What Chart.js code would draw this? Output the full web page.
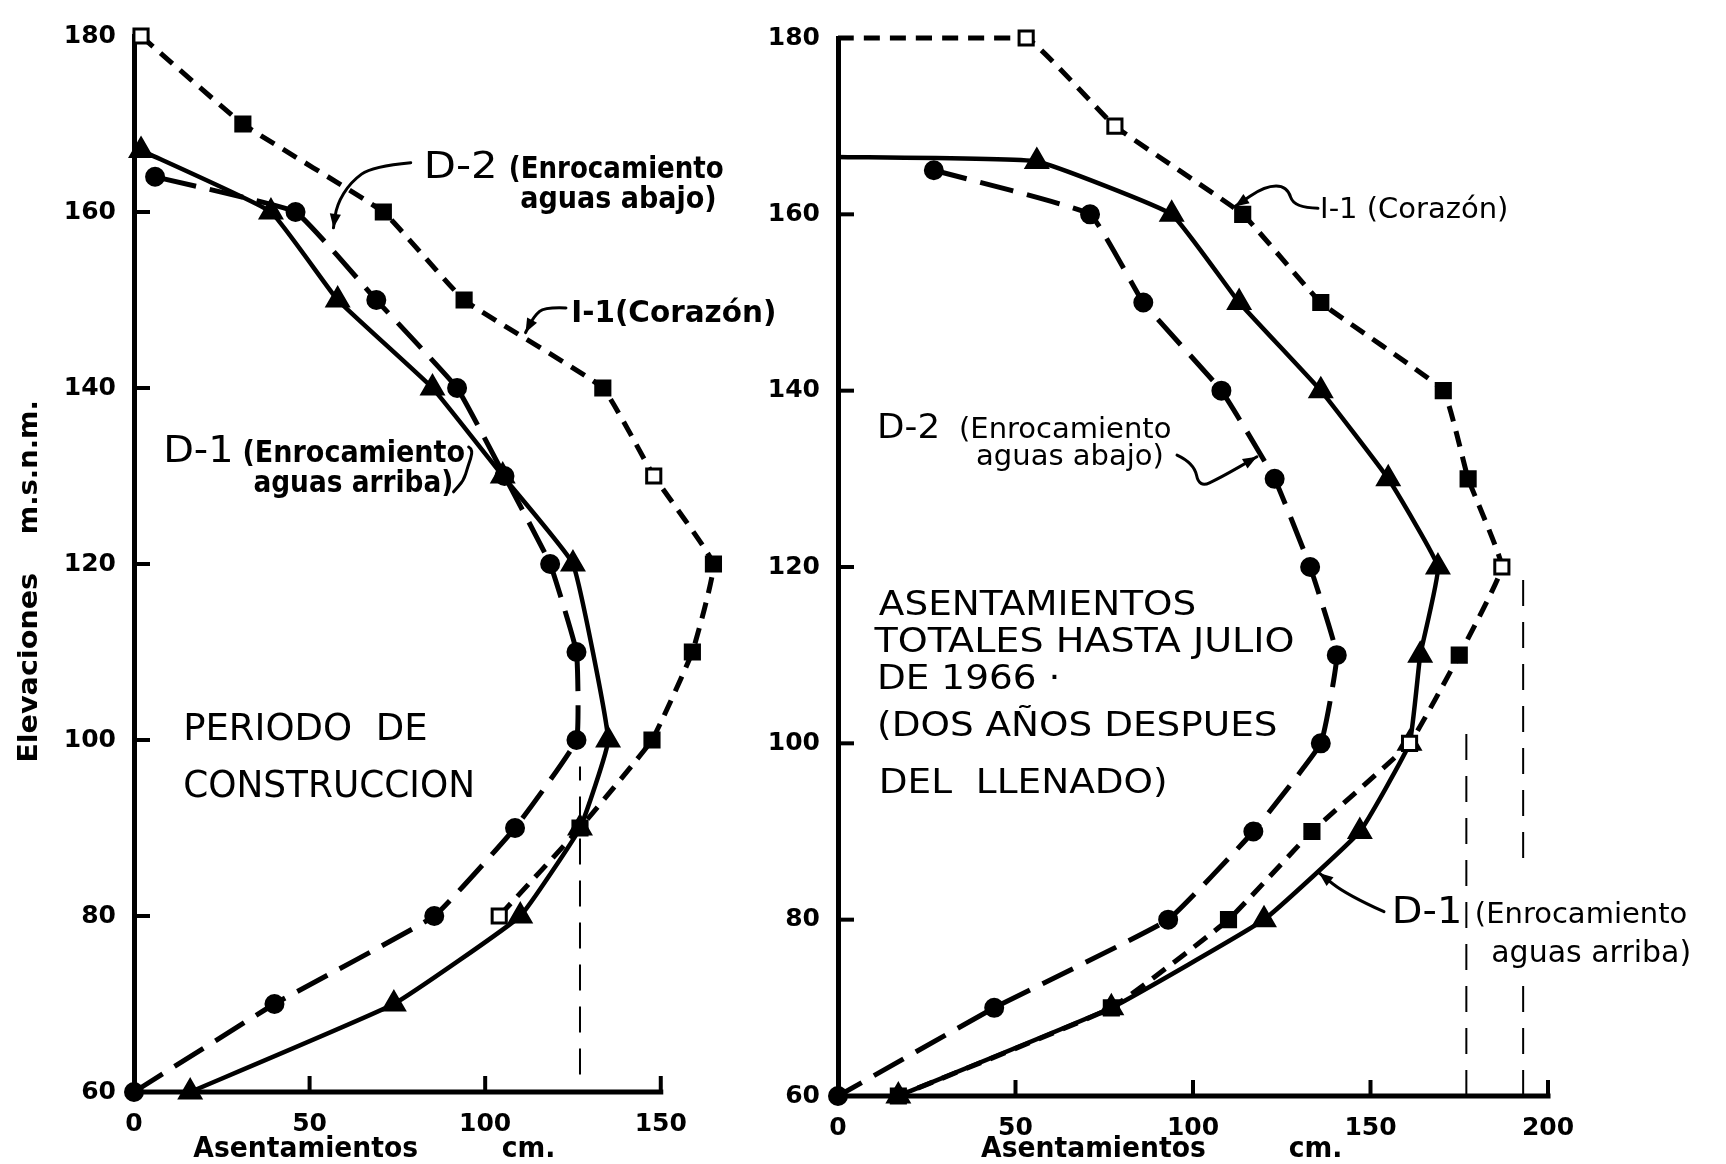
<!DOCTYPE html>
<html><head><meta charset="utf-8">
<script src="https://cdn.jsdelivr.net/npm/chart.js@4.4.1/dist/chart.umd.min.js"></script>
<style>
html,body{margin:0;padding:0;background:#fff;width:1726px;height:1164px;overflow:hidden;}
#cl{position:absolute;left:0;top:0;}
#cr{position:absolute;left:760px;top:0;}
</style></head><body>
<canvas id="cl" width="800" height="1164"></canvas>
<canvas id="cr" width="966" height="1164"></canvas>
<script>
// ---------- DATA (settlement cm, elevation m.s.n.m.) ----------
const ELEV_TICKS = [60, 80, 100, 120, 140, 160, 180];
const LEFT_X_TICKS = [0, 50, 100, 150];
const RIGHT_X_TICKS = [0, 50, 100, 150, 200];

// Periodo de construccion
const LEFT_I1 = [[2,180],[31,170],[71,160],[94,150],[133.5,140],[148,130],[165,120],[159,110],[147.5,100],[127,90],[104,80]];
const LEFT_D2 = [[0,60],[40,70],[85.5,80],[108.5,90],[126,100],[126,110],[118.5,120],[105.5,130],[92,140],[69,150],[46,160],[6,164]];
const LEFT_D1 = [[16,60],[74,70],[110,80],[127,90],[135,100],[125,120],[105,130],[85,140],[58,150],[39,160],[2,167]];
const LEFT_GUIDE = [[127,62],[127,97]];

// Totales hasta julio de 1966
const RIGHT_I1 = [[0,180],[53,180],[78,170],[114,160],[136,150],[170.5,140],[177.5,130],[187,120],[175,110],[161,100],[133.5,90],[110,80],[77,70],[17,60]];
const RIGHT_D2 = [[27,165],[71,160],[86,150],[108,140],[123,130],[133,120],[140.5,110],[136,100],[117,90],[93,80],[44,70],[0,60]];
const RIGHT_D1 = [[0,166.5],[56,166],[94,160],[113,150],[136,140],[155,130],[169,120],[164,110],[161,100],[147,90],[120,80],[77,70],[17,60]];
const RIGHT_GUIDE_A = [[177,60],[177,102]];
const RIGHT_GUIDE_B = [[193,60],[193,73],[193,null],[193,87],[193,119]];

// ---------- STYLE ----------
const INK = '#000';
const FONT = '"DejaVu Sans", "Liberation Sans", sans-serif';
const LEFT_I1_OPEN = [0, 5, 10];
const RIGHT_I1_OPEN = [1, 2, 7, 9];
const RIGHT_I1_NOMARK = [0];
const RIGHT_D1_NOMARK = [0];

const toXY = arr => arr.map(p => ({x: p[0], y: p[1]}));

function seriesI1(data, open, nomark) {
  return {
    label: 'I-1 (Corazón)', data: toXY(data), borderColor: INK, borderWidth: 5,
    borderDash: [16, 10], pointStyle: 'rect',
    pointRadius: c => (nomark || []).includes(c.dataIndex) ? 0 : 10,
    pointBackgroundColor: c => open.includes(c.dataIndex) ? '#fff' : INK,
    pointBorderColor: INK, pointBorderWidth: 3, tension: 0.1, clip: false
  };
}
function seriesD2(data) {
  return {
    label: 'D-2 (Enrocamiento aguas abajo)', data: toXY(data), borderColor: INK, borderWidth: 5,
    borderDash: [34, 14], pointStyle: 'circle', pointRadius: 7.5,
    pointBackgroundColor: INK, pointBorderColor: INK, tension: 0.1, clip: false
  };
}
function seriesD1(data, nomark) {
  return {
    label: 'D-1 (Enrocamiento aguas arriba)', data: toXY(data), borderColor: INK, borderWidth: 4.5,
    pointStyle: 'triangle',
    pointRadius: c => (nomark || []).includes(c.dataIndex) ? 0 : 10.5,
    pointBackgroundColor: INK, pointBorderColor: INK, tension: 0.1, clip: false
  };
}
function guide(data) {
  return { label: 'guide', data: toXY(data), borderColor: INK, borderWidth: 2,
    borderDash: [26, 16], pointRadius: 0, spanGaps: false, clip: false };
}

const inkPlugin = {
  id: 'ink',
  beforeDatasetsDraw(chart, args, opts) {
    const ctx = chart.ctx, xs = chart.scales.x, ys = chart.scales.y;
    ctx.save();
    ctx.strokeStyle = INK; ctx.lineWidth = 5; ctx.setLineDash([]); ctx.lineCap = 'butt';
    ctx.beginPath();
    ctx.moveTo(xs.left - 2.5, ys.bottom);
    ctx.lineTo(xs.getPixelForValue(opts.xEnd) + 2.5, ys.bottom);
    ctx.stroke();
    ctx.restore();
  },
  afterDraw(chart, args, opts) {
    const ctx = chart.ctx, xs = chart.scales.x, ys = chart.scales.y;
    const X = v => xs.getPixelForValue(v), Y = v => ys.getPixelForValue(v);
    ctx.save();
    ctx.strokeStyle = INK; ctx.fillStyle = INK; ctx.lineWidth = 4; ctx.setLineDash([]);
    xs.ticks.forEach(t => {
      if (t.value === xs.min) return;
      const px = X(t.value);
      ctx.beginPath(); ctx.moveTo(px, ys.bottom); ctx.lineTo(px, ys.bottom - opts.tickLen); ctx.stroke();
    });
    ys.ticks.forEach(t => {
      if (t.value === ys.min || t.value === ys.max) return;
      const py = Y(t.value);
      ctx.beginPath(); ctx.moveTo(xs.left, py); ctx.lineTo(xs.left + opts.tickLen, py); ctx.stroke();
    });
    (opts.leaders || []).forEach(L => {
      const pts = L.pts.map(p => [X(p[0]), Y(p[1])]);
      ctx.lineWidth = 3; ctx.lineJoin = 'round'; ctx.lineCap = 'round';
      ctx.beginPath(); ctx.moveTo(pts[0][0], pts[0][1]);
      for (let i = 1; i < pts.length - 1; i++) {
        const mx = (pts[i][0] + pts[i+1][0]) / 2, my = (pts[i][1] + pts[i+1][1]) / 2;
        ctx.quadraticCurveTo(pts[i][0], pts[i][1], mx, my);
      }
      const last = pts[pts.length - 1];
      ctx.lineTo(last[0], last[1]); ctx.stroke();
      if (L.arrow) {
        const prev = pts[pts.length - 2];
        const a = Math.atan2(last[1] - prev[1], last[0] - prev[0]);
        const s = 14, w = 0.4;
        ctx.beginPath(); ctx.moveTo(last[0], last[1]);
        ctx.lineTo(last[0] - s*Math.cos(a) + s*w*Math.sin(a), last[1] - s*Math.sin(a) - s*w*Math.cos(a));
        ctx.lineTo(last[0] - s*Math.cos(a) - s*w*Math.sin(a), last[1] - s*Math.sin(a) + s*w*Math.cos(a));
        ctx.closePath(); ctx.fill();
      }
    });
    (opts.texts || []).forEach(T => {
      ctx.save();
      ctx.font = `${T.w || 'normal'} ${T.s}px ${FONT}`;
      ctx.textBaseline = T.base || 'alphabetic'; ctx.textAlign = T.align || 'left';
      ctx.translate(X(T.x), Y(T.y));
      if (T.rot) ctx.rotate(T.rot);
      ctx.scale(T.hs || 1, 1);
      ctx.fillText(T.t, 0, 0);
      ctx.restore();
    });
    ctx.restore();
  }
};

function makeChart(id, datasets, xTicks, xMax, yWidth, pad, annot) {
  return new Chart(document.getElementById(id), {
    type: 'line',
    data: { datasets },
    plugins: [inkPlugin],
    options: {
      responsive: false, animation: false,
      layout: { padding: pad },
      plugins: { legend: { display: false }, tooltip: { enabled: false }, ink: annot },
      scales: {
        x: { type: 'linear', min: 0, max: xMax,
          afterBuildTicks: s => { s.ticks = xTicks.map(v => ({ value: v })); },
          afterFit: s => { s.height = 40; },
          grid: { display: false }, border: { display: false },
          ticks: { color: INK, padding: 9, font: { family: FONT, size: 25, weight: 'bold' } } },
        y: { type: 'linear', min: 60, max: 180,
          afterBuildTicks: s => { s.ticks = ELEV_TICKS.map(v => ({ value: v })); },
          afterFit: s => { s.width = yWidth; },
          grid: { display: false }, border: { display: true, width: 5, color: INK },
          ticks: { color: INK, padding: 10, font: { family: FONT, size: 25, weight: 'bold' } } }
      }
    }
  });
}

// Left panel: chart area 134..731 (x 0..170) x 36..1092; axis drawn to 150
makeChart('cl',
  [guide(LEFT_GUIDE), seriesI1(LEFT_I1, LEFT_I1_OPEN), seriesD2(LEFT_D2), seriesD1(LEFT_D1)],
  LEFT_X_TICKS, 170, 80, { left: 54, right: 69, top: 36, bottom: 32 },
  { tickLen: 16, xEnd: 150,
    texts: [
      { t: 'D-2', x: 82.5, y: 163.9, s: 38, hs: 1.1 },
      { t: '(Enrocamiento', x: 106.7, y: 163.9, s: 30, w: 'bold', hs: 0.87 },
      { t: 'aguas abajo)', x: 110, y: 160.5, s: 30, w: 'bold', hs: 0.9 },
      { t: 'I-1(Corazón)', x: 124.5, y: 147.5, s: 31, w: 'bold', hs: 0.95 },
      { t: 'D-1', x: 8.3, y: 131.6, s: 38, hs: 1.05 },
      { t: '(Enrocamiento', x: 30.9, y: 131.6, s: 30, w: 'bold', hs: 0.9 },
      { t: 'aguas arriba)', x: 34, y: 128.2, s: 30, w: 'bold', hs: 0.88 },
      { t: 'PERIODO  DE', x: 14, y: 100, s: 37 },
      { t: 'CONSTRUCCION', x: 14, y: 93.5, s: 37, hs: 0.97 },
      { t: 'Asentamientos', x: 16.9, y: 52.6, s: 28, w: 'bold', hs: 0.95 },
      { t: 'cm.', x: 104.7, y: 52.6, s: 28, w: 'bold', hs: 0.95 },
      { t: 'Elevaciones', x: -29.6, y: 108.2, s: 26, w: 'bold', hs: 1.1, rot: -Math.PI/2, align: 'center', base: 'middle' },
      { t: 'm.s.n.m.', x: -29.6, y: 131.0, s: 26, w: 'bold', hs: 1.05, rot: -Math.PI/2, align: 'center', base: 'middle' }
    ],
    leaders: [
      { pts: [[78.8,165.6],[67.9,165.2],[61.7,163.4],[57.7,160.8],[56.8,158.2]], arrow: true },
      { pts: [[123,149.1],[117,149.2],[114,148.2],[111.5,146.3]], arrow: true },
      { pts: [[95.3,133.3],[96.7,133.0],[95.0,131.0],[93.9,129.5],[91.0,128.2]], arrow: false }
    ] });

// Right panel: chart area (page) 838..1548 x 38..1096 -> canvas 78..788
makeChart('cr',
  [guide(RIGHT_GUIDE_A), guide(RIGHT_GUIDE_B), seriesI1(RIGHT_I1, RIGHT_I1_OPEN, RIGHT_I1_NOMARK), seriesD2(RIGHT_D2), seriesD1(RIGHT_D1, RIGHT_D1_NOMARK)],
  RIGHT_X_TICKS, 200, 75, { left: 3, right: 178, top: 38, bottom: 28 },
  { tickLen: 16, xEnd: 200,
    texts: [
      { t: 'I-1 (Corazón)', x: 135.8, y: 159.6, s: 29 },
      { t: 'D-2', x: 11.0, y: 134.6, s: 34, hs: 1.05 },
      { t: '(Enrocamiento', x: 34.1, y: 134.6, s: 29 },
      { t: 'aguas abajo)', x: 38.9, y: 131.6, s: 29 },
      { t: 'ASENTAMIENTOS', x: 11.5, y: 114.6, s: 34, hs: 1.1 },
      { t: 'TOTALES HASTA JULIO', x: 10.3, y: 110.4, s: 34, hs: 1.12 },
      { t: 'DE 1966 ·', x: 11.0, y: 106.2, s: 34, hs: 1.1 },
      { t: '(DOS AÑOS DESPUES', x: 11.0, y: 100.8, s: 34, hs: 1.1 },
      { t: 'DEL  LLENADO)', x: 11.5, y: 94.4, s: 34, hs: 1.1 },
      { t: 'D-1', x: 156, y: 79.6, s: 38, hs: 1.05 },
      { t: '(Enrocamiento', x: 179.4, y: 79.6, s: 29 },
      { t: 'aguas arriba)', x: 184, y: 75.2, s: 30 },
      { t: 'Asentamientos', x: 40.3, y: 53.1, s: 28, w: 'bold', hs: 0.95 },
      { t: 'cm.', x: 127.0, y: 53.1, s: 28, w: 'bold', hs: 0.95 }
    ],
    leaders: [
      { pts: [[135.2,160.7],[128.5,160.7],[126.5,163.2],[120.3,163.2],[111.8,160.9]], arrow: true },
      { pts: [[95.5,132.7],[100.3,131.8],[101.7,129.0],[107.6,130.1],[118.0,132.5]], arrow: true },
      { pts: [[153.8,80.9],[143.4,82.8],[135.5,85.3]], arrow: true }
    ] });
</script>
</body></html>
